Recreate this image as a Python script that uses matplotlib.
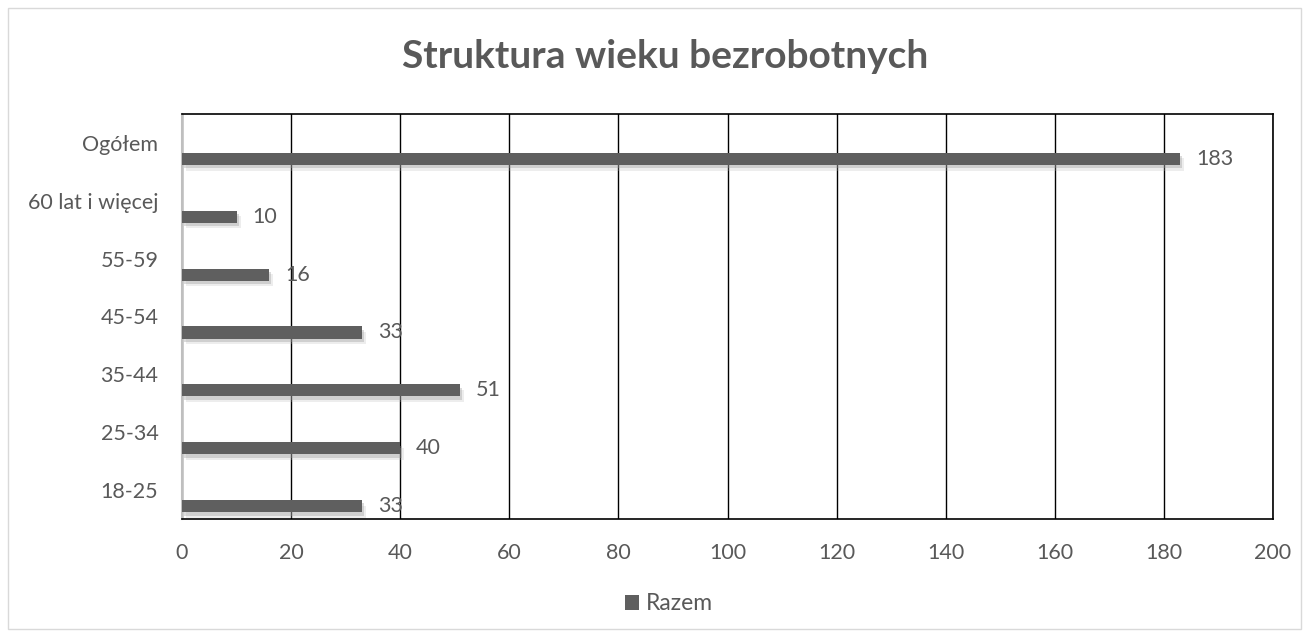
import matplotlib
matplotlib.use("Agg")
import matplotlib.pyplot as plt
import matplotlib.patheffects as pe
from matplotlib.patches import Rectangle, Patch

categories = ["18-25", "25-34", "35-44", "45-54", "55-59", "60 lat i więcej", "Ogółem"]
values = [33, 40, 51, 33, 16, 10, 183]
series_name = "Razem"
x_ticks = [0, 20, 40, 60, 80, 100, 120, 140, 160, 180, 200]

plt.rcParams['font.family'] = ['Lato', 'DejaVu Sans']
TXT = '#595959'
BAR = '#5f5f5f'

fig = plt.figure(figsize=(13.09, 6.37), dpi=100)
fig.patch.set_facecolor('white')
fig.add_artist(Rectangle((8/1309, 8/637), 1 - 16/1309, 1 - 16/637, transform=fig.transFigure,
                         fill=False, edgecolor='#d9d9d9', lw=1))

ax = fig.add_axes([182/1309, 1 - 519/637, (1273 - 182)/1309, (519 - 114)/637])
ypos = list(range(len(categories)))
offset = 0.276
shadow = [pe.SimplePatchShadow(offset=(3, -4), shadow_rgbFace='#bbbbbb', alpha=0.25),
          pe.SimplePatchShadow(offset=(1.5, -2.5), shadow_rgbFace='#999999', alpha=0.35),
          pe.Normal()]
ax.barh([y - offset for y in ypos], values, height=0.21, color=BAR, zorder=3, path_effects=shadow)
for y, v in zip(ypos, values):
    ax.annotate(str(v), (v, y - offset), xytext=(16, 0), textcoords='offset pixels',
                ha='left', va='center', fontsize=15.5, color=TXT, zorder=4)

ax.set_xlim(0, 200)
ax.set_ylim(-0.5, len(categories) - 0.5)
ax.set_xticks(x_ticks)
ax.set_xticklabels([str(t) for t in x_ticks])
ax.set_yticks(ypos)
ax.set_yticklabels(categories)
ax.tick_params(axis='both', length=0, labelsize=15.5, colors=TXT)
ax.tick_params(axis='x', pad=17)
ax.tick_params(axis='y', pad=17)
ax.grid(axis='x', color='black', lw=1, zorder=1)
for s in ['top', 'right', 'bottom']:
    ax.spines[s].set_color('black')
    ax.spines[s].set_linewidth(1.2)
ax.spines['left'].set_color('#bfbfbf')
ax.spines['left'].set_linewidth(1.5)

fig.text(665/1309, 1 - 57/637, "Struktura wieku bezrobotnych", ha='center', va='center',
         fontsize=28, fontweight='bold', color=TXT)

fig.legend(handles=[Patch(facecolor=BAR, label=series_name)], loc='center',
           bbox_to_anchor=(669/1309, 1 - 604/637), frameon=False, fontsize=16.5,
           labelcolor=TXT, handlelength=0.6, handleheight=0.6, handletextpad=0.3)

fig.savefig("out.png", dpi=100, facecolor='white')
